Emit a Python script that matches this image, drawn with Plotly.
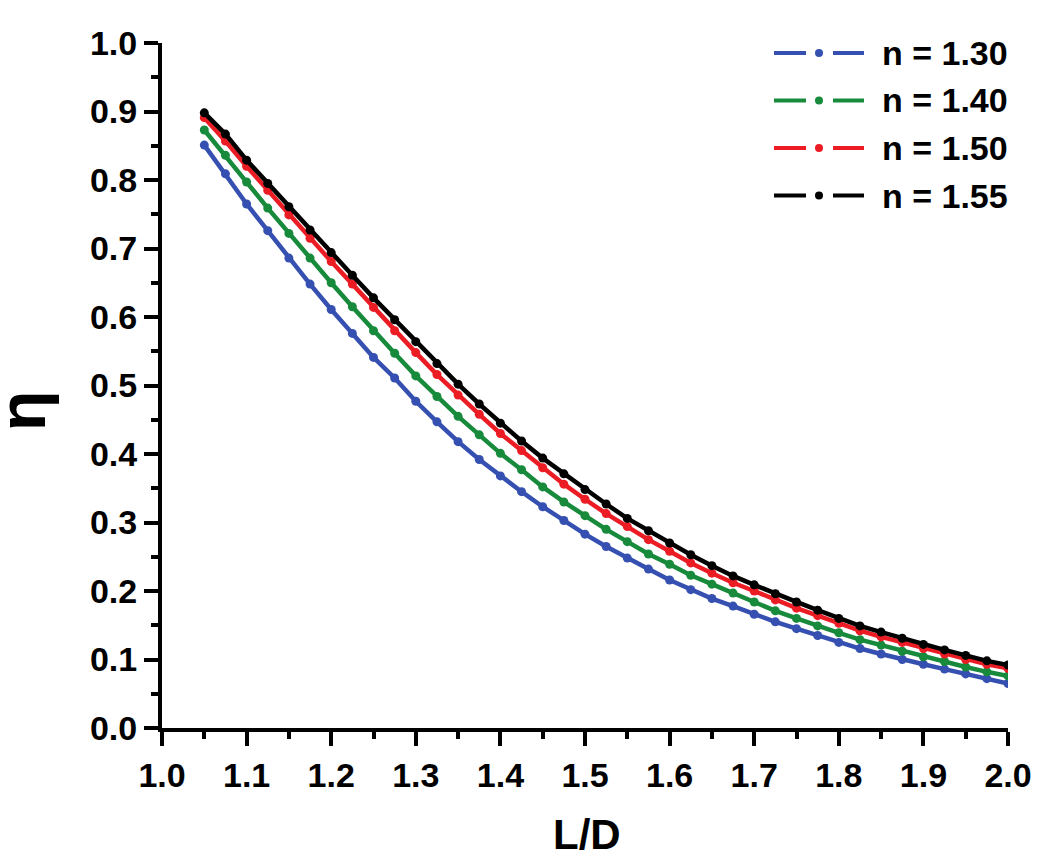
import plotly.graph_objects as go

# ---------------- data ----------------
ld = [1.05, 1.075, 1.10, 1.125, 1.15, 1.175, 1.20, 1.225, 1.25, 1.275,
      1.30, 1.325, 1.35, 1.375, 1.40, 1.425, 1.45, 1.475, 1.50, 1.525,
      1.55, 1.575, 1.60, 1.625, 1.65, 1.675, 1.70, 1.725, 1.75, 1.775,
      1.80, 1.825, 1.85, 1.875, 1.90, 1.925, 1.95, 1.975, 2.00]

eta_130 = [0.851, 0.809, 0.765, 0.726, 0.686, 0.648, 0.611, 0.576, 0.541, 0.511,
           0.477, 0.447, 0.418, 0.392, 0.368, 0.345, 0.323, 0.303, 0.283, 0.265,
           0.248, 0.232, 0.216, 0.202, 0.189, 0.178, 0.166, 0.155, 0.145, 0.135,
           0.125, 0.116, 0.108, 0.100, 0.093, 0.086, 0.079, 0.072, 0.065]

eta_140 = [0.873, 0.836, 0.797, 0.759, 0.722, 0.686, 0.650, 0.615, 0.580, 0.547,
           0.514, 0.484, 0.455, 0.428, 0.401, 0.377, 0.352, 0.330, 0.310, 0.290,
           0.272, 0.254, 0.239, 0.223, 0.210, 0.197, 0.184, 0.171, 0.160, 0.149,
           0.139, 0.129, 0.121, 0.112, 0.104, 0.097, 0.089, 0.082, 0.076]

eta_150 = [0.891, 0.857, 0.820, 0.785, 0.749, 0.715, 0.681, 0.648, 0.614, 0.580,
           0.548, 0.516, 0.486, 0.458, 0.430, 0.405, 0.380, 0.356, 0.334, 0.313,
           0.294, 0.275, 0.258, 0.241, 0.226, 0.212, 0.200, 0.187, 0.175, 0.164,
           0.153, 0.142, 0.133, 0.125, 0.116, 0.108, 0.100, 0.093, 0.087]

eta_155 = [0.898, 0.867, 0.829, 0.795, 0.761, 0.727, 0.694, 0.661, 0.628, 0.596,
           0.564, 0.532, 0.502, 0.473, 0.445, 0.419, 0.394, 0.371, 0.348, 0.327,
           0.306, 0.288, 0.270, 0.253, 0.237, 0.222, 0.209, 0.196, 0.184, 0.172,
           0.160, 0.149, 0.140, 0.131, 0.122, 0.114, 0.106, 0.098, 0.092]

series_names = ["n = 1.30", "n = 1.40", "n = 1.50", "n = 1.55"]
series_values = [eta_130, eta_140, eta_150, eta_155]
series_colors = ["#3550b0", "#178a3c", "#ec1c24", "#000000"]

x_ticks = [1.0, 1.1, 1.2, 1.3, 1.4, 1.5, 1.6, 1.7, 1.8, 1.9, 2.0]
y_ticks = [0.0, 0.1, 0.2, 0.3, 0.4, 0.5, 0.6, 0.7, 0.8, 0.9, 1.0]

# ---------------- layout geometry (page pixels; page body has an 8px margin) ----------------
OFF = 8
W, H = 1050 - OFF, 867 - OFF
PLOT_L, PLOT_R, PLOT_T, PLOT_B = 162, 1008, 43, 728   # target page coordinates
L = PLOT_L - OFF
T = PLOT_T - OFF
R = W - (PLOT_R - OFF)
B = H - (PLOT_B - OFF)
PW, PH = PLOT_R - PLOT_L, PLOT_B - PLOT_T


def px(xp):
    return (xp - PLOT_L) / PW


def py(yp):
    return (PLOT_B - yp) / PH


FONT = "Liberation Sans, Arial, sans-serif"

fig = go.Figure()
for name, vals, col in zip(series_names, series_values, series_colors):
    fig.add_trace(go.Scatter(
        x=ld, y=vals, name=name, mode="lines+markers",
        line=dict(color=col, width=4.5),
        marker=dict(color=col, size=9),
        showlegend=False,
    ))

# custom legend (Origin style: dash - dot - dash)
shapes = []
annotations = []
for i, (name, col) in enumerate(zip(series_names, series_colors)):
    yc = 53 + 47.5 * i
    shapes.append(dict(type="line", xref="paper", yref="paper",
                       x0=px(774), x1=px(806), y0=py(yc), y1=py(yc),
                       line=dict(color=col, width=4)))
    shapes.append(dict(type="line", xref="paper", yref="paper",
                       x0=px(833), x1=px(864), y0=py(yc), y1=py(yc),
                       line=dict(color=col, width=4)))
    shapes.append(dict(type="circle", xref="paper", yref="paper",
                       x0=px(815), x1=px(823), y0=py(yc - 4), y1=py(yc + 4),
                       fillcolor=col, line=dict(color=col, width=0)))
    annotations.append(dict(text=name, xref="paper", yref="paper",
                            x=px(880), y=py(yc), xanchor="left", yanchor="middle",
                            showarrow=False,
                            font=dict(family=FONT, size=34, color="black", weight="bold")))

# axis titles
annotations.append(dict(text="L/D", xref="paper", yref="paper",
                        x=px(587), y=py(834), xanchor="center", yanchor="middle",
                        showarrow=False,
                        font=dict(family=FONT, size=42, color="black", weight="bold")))
annotations.append(dict(text="η", xref="paper", yref="paper",
                        x=px(22), y=py(411), xanchor="center", yanchor="middle",
                        textangle=-90, showarrow=False,
                        font=dict(family=FONT, size=66, color="black", weight="bold")))

axis_common = dict(
    showgrid=False, zeroline=False, showline=True, linecolor="black", linewidth=4,
    ticks="outside", ticklen=14, tickwidth=3.5, tickcolor="black",
    tickfont=dict(family=FONT, size=34, color="black", weight="bold"),
    minor=dict(ticks="outside", ticklen=7, tickwidth=3.5, tickcolor="black", dtick=0.05),
    mirror=False,
)

fig.update_layout(
    width=W, height=H,
    margin=dict(l=L, r=R, t=T, b=B, pad=0),
    paper_bgcolor="white", plot_bgcolor="white",
    showlegend=False,
    shapes=shapes, annotations=annotations,
    xaxis=dict(range=[1.0, 2.0], tickvals=x_ticks,
               ticktext=[f"{v:.1f}" for v in x_ticks], **axis_common),
    yaxis=dict(range=[0.0, 1.0], tickvals=y_ticks,
               ticktext=[f"{v:.1f}" for v in y_ticks], **axis_common),
)

fig.write_html("out.html")
